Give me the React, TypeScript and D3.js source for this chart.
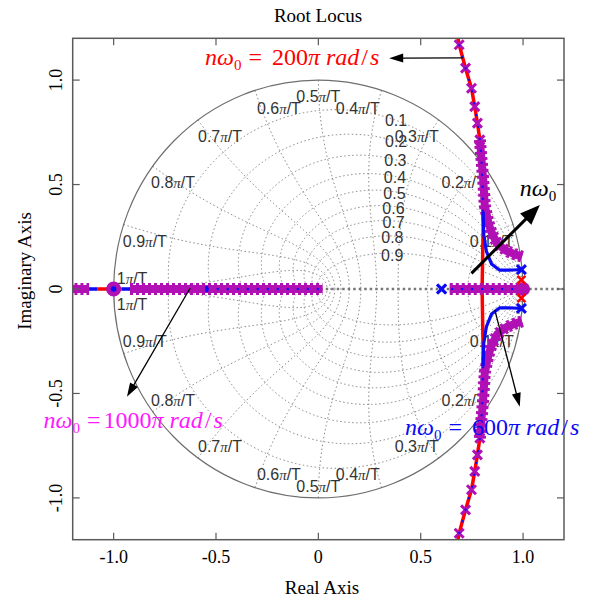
import React from 'react';
import * as d3 from 'd3';

const W = 596;
const H = 601;

const xTicks = [-1, -0.5, 0, 0.5, 1];
const xTickLabels = ['-1.0', '-0.5', '0', '0.5', '1.0'];
const yTicks = [-1, -0.5, 0, 0.5, 1];
const yTickLabels = ['-1.0', '-0.5', '0', '0.5', '1.0'];

const zetaValues = [0.1, 0.2, 0.3, 0.4, 0.5, 0.6, 0.7, 0.8, 0.9];
const zetaLabels = ['0.1', '0.2', '0.3', '0.4', '0.5', '0.6', '0.7', '0.8', '0.9'];
const wnValues = [0.1, 0.2, 0.3, 0.4, 0.5, 0.6, 0.7, 0.8, 0.9, 1.0];
const wnLabels = ['0.1', '0.2', '0.3', '0.4', '0.5', '0.6', '0.7', '0.8', '0.9', '1'];

// Root locus, upper half (mirrored for the conjugate half)
const redUpper: [number, number][] = [
  [0.8, 0], [0.805, 0.3], [0.802, 0.5], [0.797, 0.62], [0.789, 0.714], [0.777, 0.794],
  [0.764, 0.873], [0.748, 0.961], [0.719, 1.057], [0.688, 1.169], [0.674, 1.24],
];
const redRealSegments: [number, number][] = [[-1.08, -0.96], [0.76, 0.99]];
const redPolesUpper: [number, number][] = [[0.992, 0.044]];

const blueBranchUpper: [number, number][] = [
  [0.992, 0.093], [0.95, 0.091], [0.886, 0.09], [0.846, 0.12], [0.821, 0.18], [0.808, 0.26], [0.805, 0.37],
];
const blueRidgeUpper: [number, number][] = [
  [0.805, 0.37], [0.802, 0.5], [0.797, 0.62], [0.789, 0.714], [0.777, 0.794], [0.764, 0.873],
  [0.748, 0.961], [0.719, 1.057], [0.688, 1.169], [0.674, 1.24],
];
const blueRealSolid: [number, number][] = [[-1.12, -1.08], [-0.96, -0.92]];
const blueRealDotted: [number, number][] = [[-0.545, 0.02], [0.6, 0.99]];
const bluePolesUpper: [number, number][] = [[0.992, 0.093], [0.602, 0]];
const blueZero: [number, number] = [-1, 0];
const blueMark: [number, number] = [-0.545, 0];

const magentaBranchUpper: [number, number][] = [
  [0.995, 0.155], [0.96, 0.166], [0.92, 0.182], [0.875, 0.215], [0.846, 0.27], [0.83, 0.32],
  [0.813, 0.4], [0.805, 0.53], [0.797, 0.62], [0.789, 0.714],
];
const magentaMarkersUpper: [number, number][] = [
  [0.789, 0.714], [0.777, 0.794], [0.764, 0.873], [0.748, 0.961], [0.719, 1.057], [0.688, 1.169],
];
const magentaRealSegments: [number, number][] = [[-1.25, -1.12], [-0.92, 0.02], [0.642, 1.0]];
const magentaZero: [number, number] = [-1, 0];
const magentaBlob: [number, number] = [1.0, 0];

const x = d3.scaleLinear().domain([-1.2, 1.2]).range([72.7, 564]);
const y = d3.scaleLinear().domain([-1.2, 1.2]).range([539.7, 38.3]);

const line = d3.line<[number, number]>().x((d) => x(d[0])).y((d) => y(d[1]));
const mirror = (pts: [number, number][]): [number, number][] => pts.map((p) => [p[0], -p[1]]);

const zetaCurve = (z: number): [number, number][] => {
  const m = z / Math.sqrt(1 - z * z);
  return d3.range(0, 401).map((i) => {
    const t = (Math.PI * i) / 400;
    const r = Math.exp(-m * t);
    return [r * Math.cos(t), r * Math.sin(t)] as [number, number];
  });
};
const wnCurve = (k: number): [number, number][] => {
  const w = k * Math.PI;
  return d3.range(0, 101).map((i) => {
    const zt = i / 100;
    const r = Math.exp(-zt * w);
    const a = w * Math.sqrt(Math.max(0, 1 - zt * zt));
    return [r * Math.cos(a), r * Math.sin(a)] as [number, number];
  });
};

const zetaLabelPos = (z: number): [number, number] => {
  const pts = zetaCurve(z);
  const p = pts.find((q) => q[0] <= 0.36) || pts[0];
  return p;
};

const wnLabelPos = (k: number): [number, number] => {
  const aDeg = k * 180;
  const dd = Math.abs(aDeg - 90);
  const sign = aDeg < 90 ? 1 : aDeg > 90 ? -1 : 0;
  const adj = k === 1 ? 0 : sign * (8.2 - 0.147 * dd);
  const r = 0.88 + 0.05 * Math.max(0, 1 - dd / 25) + (k === 1 ? 0.03 : 0);
  const a = ((aDeg + adj) * Math.PI) / 180;
  return [r * Math.cos(a), r * Math.sin(a)];
};

const GRID = '#7c7c7c';
const RED = '#ff0000';
const BLUE = '#0a0af5';
const MAG = '#b010b4';
const MAG_TEXT = '#ff18ff';

const arrowHead = (x1: number, y1: number, x2: number, y2: number, L: number, w: number) => {
  const dx = x2 - x1;
  const dy = y2 - y1;
  const len = Math.hypot(dx, dy);
  const ux = dx / len;
  const uy = dy / len;
  const bx = x2 - ux * L;
  const by = y2 - uy * L;
  return `${x2},${y2} ${bx - uy * w},${by + ux * w} ${bx + uy * w},${by - ux * w}`;
};

const Arrow = ({ from, to, width, L, w }: { from: [number, number]; to: [number, number]; width: number; L: number; w: number }) => {
  const x1 = x(from[0]);
  const y1 = y(from[1]);
  const x2 = x(to[0]);
  const y2 = y(to[1]);
  const len = Math.hypot(x2 - x1, y2 - y1);
  const ex = x2 - ((x2 - x1) / len) * (L * 0.8);
  const ey = y2 - ((y2 - y1) / len) * (L * 0.8);
  return (
    <g>
      <line x1={x1} y1={y1} x2={ex} y2={ey} stroke="#000" strokeWidth={width} />
      <polygon points={arrowHead(x1, y1, x2, y2, L, w)} fill="#000" />
    </g>
  );
};

const XMark = ({ p, s, color, sw }: { p: [number, number]; s: number; color: string; sw: number }) => {
  const cx = x(p[0]);
  const cy = y(p[1]);
  return (
    <path
      d={`M${cx - s},${cy - s}L${cx + s},${cy + s}M${cx - s},${cy + s}L${cx + s},${cy - s}`}
      stroke={color}
      strokeWidth={sw}
      fill="none"
    />
  );
};

const Band = ({ pts, color }: { pts: [number, number][]; color: string }) => (
  <g>
    <path d={line(pts) || ''} stroke={color} strokeWidth={8} fill="none" strokeLinejoin="round" />
    <path d={line(pts) || ''} stroke={color} strokeWidth={12} strokeDasharray="3 3" fill="none" />
  </g>
);

const Formula = ({ at, value, color, eqGap }: { at: [number, number]; value: string; color: string; eqGap: number }) => (
  <text x={x(at[0])} y={y(at[1])} fontFamily="Liberation Serif" fontSize={24} fill={color}>
    <tspan fontStyle="italic">nω</tspan>
    <tspan fontSize={15} dy={5}>0</tspan>
    <tspan dy={-5} dx={7}>=</tspan>
    <tspan dx={eqGap}>{value}</tspan>
    <tspan fontStyle="italic">π</tspan>
    <tspan dx={6} fontStyle="italic">rad</tspan>
    <tspan dx={2}>/</tspan>
    <tspan dx={2} fontStyle="italic">s</tspan>
  </text>
);

export default function App() {
  const left = x(-1.2);
  const right = x(1.2);
  const top = y(1.2);
  const bottom = y(-1.2);
  const tickLen = 7;
  const labelShift = 8.5;

  return (
    <svg width={W} height={H} style={{ position: 'absolute', left: 0, top: 0, background: '#fff' }}>
      <defs>
        <clipPath id="plotClip">
          <rect x={left} y={top} width={right - left} height={bottom - top} />
        </clipPath>
      </defs>
      <rect x={0} y={0} width={W} height={H} fill="#fff" />

      <g clipPath="url(#plotClip)">
        {/* z-grid */}
        {zetaValues.map((z) => (
          <g key={'z' + z}>
            <path d={line(zetaCurve(z)) || ''} stroke={GRID} strokeWidth={0.9} strokeDasharray="1.5 2.5" fill="none" />
            <path d={line(mirror(zetaCurve(z))) || ''} stroke={GRID} strokeWidth={0.9} strokeDasharray="1.5 2.5" fill="none" />
          </g>
        ))}
        {wnValues.map((k) => (
          <g key={'w' + k}>
            <path d={line(wnCurve(k)) || ''} stroke={GRID} strokeWidth={0.9} strokeDasharray="1.5 2.5" fill="none" />
            <path d={line(mirror(wnCurve(k))) || ''} stroke={GRID} strokeWidth={0.9} strokeDasharray="1.5 2.5" fill="none" />
          </g>
        ))}
        <ellipse cx={x(0)} cy={y(0)} rx={x(1) - x(0)} ry={y(0) - y(1)} stroke="#6e6e6e" strokeWidth={1.2} fill="none" />
        <line x1={left} x2={right} y1={y(0)} y2={y(0)} stroke="#777" strokeWidth={2.6} strokeDasharray="2.5 3" />

        {/* grid labels */}
        {zetaValues.map((z, i) => {
          const p = zetaLabelPos(z);
          return (
            <text key={'zl' + z} x={x(p[0]) + (1 - z) * 6} y={y(p[1]) + 7.5} textAnchor="middle" fontFamily="Liberation Sans" fontSize={16} fill="#333">
              {zetaLabels[i]}
            </text>
          );
        })}
        {wnValues.map((k, i) => {
          const p = wnLabelPos(k);
          const off = k === 1 ? 12.5 : 0;
          return [1, -1].map((s) => (
            <text
              key={'wl' + k + s}
              x={x(p[0])}
              y={y(s * p[1]) - s * off + labelShift - (s > 0 ? 1 : 0)}
              textAnchor="middle"
              fontFamily="Liberation Sans"
              fontSize={16}
              fill="#333"
            >
              {wnLabels[i]}
              <tspan fontFamily="Liberation Serif" fontStyle="italic" fontSize={15}>π</tspan>
              /T
            </text>
          ));
        })}

        {/* red locus */}
        <path d={line(redUpper) || ''} stroke={RED} strokeWidth={3.5} fill="none" />
        <path d={line(mirror(redUpper)) || ''} stroke={RED} strokeWidth={3.5} fill="none" />
        {redRealSegments.map((s, i) => (
          <line key={'rr' + i} x1={x(s[0])} x2={x(s[1])} y1={y(0)} y2={y(0)} stroke={RED} strokeWidth={3.5} />
        ))}

        {/* magenta locus */}
        {magentaRealSegments.map((s, i) => (
          <Band key={'mr' + i} pts={[[s[0], 0], [s[1], 0]]} color={MAG} />
        ))}
        <Band pts={magentaBranchUpper} color={MAG} />
        <Band pts={mirror(magentaBranchUpper)} color={MAG} />
        {magentaMarkersUpper.concat(mirror(magentaMarkersUpper)).map((p, i) => (
          <XMark key={'mm' + i} p={p} s={4.5} color={MAG} sw={3} />
        ))}
        <circle cx={x(magentaBlob[0])} cy={y(magentaBlob[1])} r={7} fill={MAG} />
        <circle cx={x(magentaZero[0])} cy={y(magentaZero[1])} r={6.5} fill={MAG} stroke={MAG} strokeWidth={2} />

        {/* blue locus */}
        {blueRealSolid.map((s, i) => (
          <line key={'bs' + i} x1={x(s[0])} x2={x(s[1])} y1={y(0)} y2={y(0)} stroke={BLUE} strokeWidth={3.5} />
        ))}
        {blueRealDotted.map((s, i) => (
          <line key={'bd' + i} x1={x(s[0])} x2={x(s[1])} y1={y(0)} y2={y(0)} stroke={BLUE} strokeWidth={2} strokeDasharray="2 8" />
        ))}
        <path d={line(blueBranchUpper) || ''} stroke={BLUE} strokeWidth={3.2} fill="none" />
        <path d={line(mirror(blueBranchUpper)) || ''} stroke={BLUE} strokeWidth={3.2} fill="none" />
        <path d={line(blueRidgeUpper) || ''} stroke={BLUE} strokeWidth={2} strokeDasharray="2 10" fill="none" />
        <path d={line(mirror(blueRidgeUpper)) || ''} stroke={BLUE} strokeWidth={2} strokeDasharray="2 10" fill="none" />
        <circle cx={x(blueZero[0])} cy={y(blueZero[1])} r={2.8} fill={BLUE} />
        <rect x={x(blueMark[0]) - 1.5} y={y(blueMark[1]) - 3} width={3} height={6} fill={BLUE} />

        {/* poles */}
        {redPolesUpper.concat(mirror(redPolesUpper)).map((p, i) => (
          <XMark key={'rp' + i} p={p} s={4} color={RED} sw={2.5} />
        ))}
        {bluePolesUpper.concat(mirror(bluePolesUpper)).map((p, i) => (
          <XMark key={'bp' + i} p={p} s={4.5} color={BLUE} sw={3} />
        ))}
      </g>

      {/* frame */}
      <rect x={left} y={top} width={right - left} height={bottom - top} fill="none" stroke="#5a5a5a" strokeWidth={1.5} />
      {xTicks.map((t) => (
        <g key={'xt' + t}>
          <line x1={x(t)} x2={x(t)} y1={bottom} y2={bottom - tickLen} stroke="#5a5a5a" strokeWidth={1.2} />
          <line x1={x(t)} x2={x(t)} y1={top} y2={top + tickLen} stroke="#5a5a5a" strokeWidth={1.2} />
        </g>
      ))}
      {yTicks.map((t) => (
        <g key={'yt' + t}>
          <line x1={left} x2={left + tickLen} y1={y(t)} y2={y(t)} stroke="#5a5a5a" strokeWidth={1.2} />
          <line x1={right} x2={right - tickLen} y1={y(t)} y2={y(t)} stroke="#5a5a5a" strokeWidth={1.2} />
        </g>
      ))}
      {xTicks.map((t, i) => (
        <text key={'xl' + t} x={x(t)} y={563} textAnchor="middle" fontFamily="Liberation Serif" fontSize={18} fill="#000">
          {xTickLabels[i]}
        </text>
      ))}
      {yTicks.map((t, i) => (
        <text
          key={'yl' + t}
          x={61.7}
          y={y(t)}
          transform={`rotate(-90, 61.7, ${y(t)})`}
          textAnchor="middle"
          fontFamily="Liberation Serif"
          fontSize={18}
          fill="#000"
        >
          {yTickLabels[i]}
        </text>
      ))}

      <text x={318} y={22} textAnchor="middle" fontFamily="Liberation Serif" fontSize={19} fill="#000">
        Root Locus
      </text>
      <text x={322} y={594} textAnchor="middle" fontFamily="Liberation Serif" fontSize={19} fill="#000">
        Real Axis
      </text>
      <text x={31} y={271} transform="rotate(-90, 31, 271)" textAnchor="middle" fontFamily="Liberation Serif" fontSize={19} fill="#000">
        Imaginary Axis
      </text>

      {/* annotations */}
      <Formula at={[-0.554, 1.073]} value="200" color={RED} eqGap={10} />
      <Formula at={[0.423, -0.699]} value="600" color={BLUE} eqGap={10} />
      <Formula at={[-1.343, -0.666]} value="1000" color={MAG_TEXT} eqGap={3} />
      <Arrow from={[0.706, 1.106]} to={[0.346, 1.105]} width={1.3} L={14} w={4.5} />
      <Arrow from={[0.862, -0.1]} to={[0.984, -0.564]} width={1.3} L={14} w={4.5} />
      <Arrow from={[-0.626, 0.005]} to={[-0.935, -0.516]} width={1.3} L={14} w={4.5} />
      <Arrow from={[0.748, 0.075]} to={[1.082, 0.402]} width={3} L={20} w={8} />
      <text x={x(0.984)} y={y(0.445)} fontFamily="Liberation Serif" fontSize={24} fill="#000">
        <tspan fontStyle="italic">nω</tspan>
        <tspan fontSize={15} dy={5}>0</tspan>
      </text>
    </svg>
  );
}
